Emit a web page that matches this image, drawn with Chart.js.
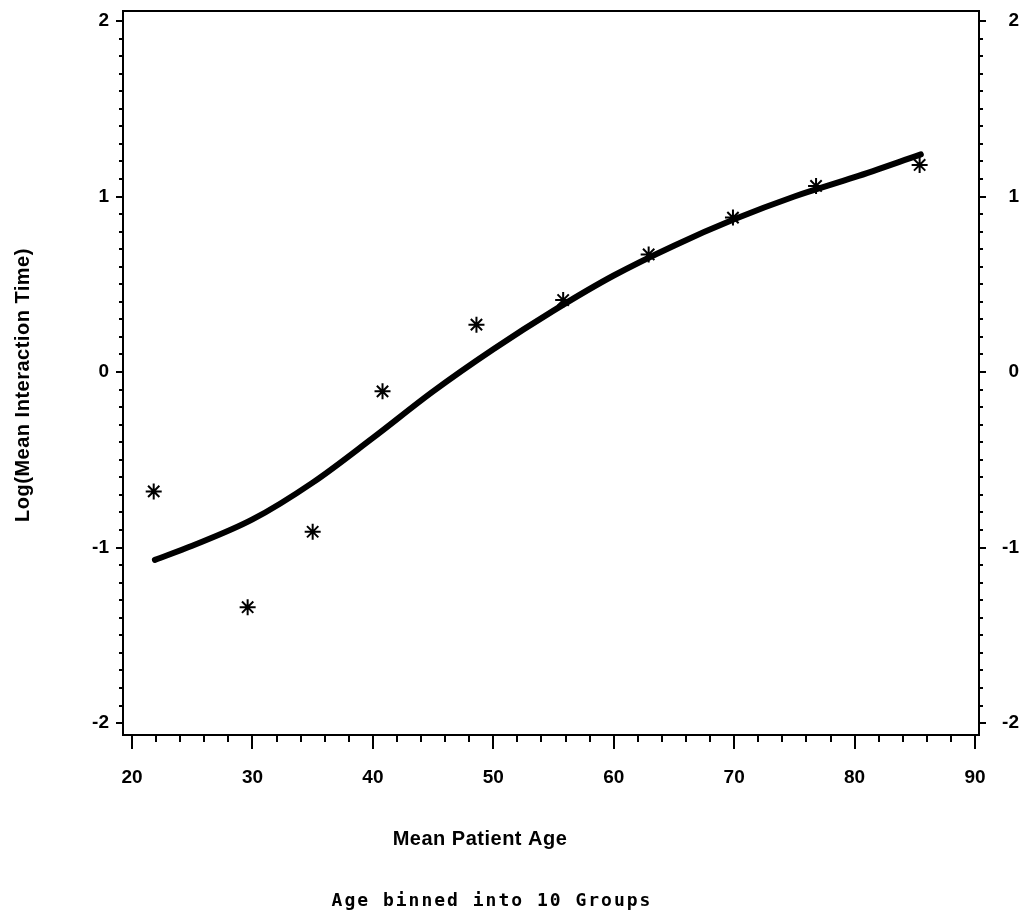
<!DOCTYPE html>
<html>
<head>
<meta charset="utf-8">
<script src="https://cdn.jsdelivr.net/npm/chart.js@4"></script>
<style>
  html, body { margin: 0; padding: 0; background: #fff; }
  #wrap { width: 1019px; height: 914px; }
</style>
</head>
<body>
<div id="wrap"><canvas id="ageChart" width="1019" height="914"></canvas></div>
<script>
// observed group means
const ageMeans = [21.8, 29.6, 35.0, 40.8, 48.6, 55.8, 62.9, 69.9, 76.8, 85.4];
const logTimes = [-0.68, -1.34, -0.91, -0.11, 0.27, 0.41, 0.67, 0.88, 1.06, 1.18];

// fitted curve
const fitAge = [21.9, 25, 30, 35, 40, 45, 50, 55, 60, 65, 70, 75, 80, 85.5];
const fitLog = [-1.07, -0.99, -0.84, -0.63, -0.375, -0.11, 0.13, 0.35, 0.55, 0.72, 0.87, 1.0, 1.11, 1.24];

const xMajor = [20, 30, 40, 50, 60, 70, 80, 90];
const yMajor = [-2, -1, 0, 1, 2];

const tickFont = { family: 'Liberation Sans, Arial, sans-serif', size: 19, weight: 'bold' };

const noPad = s => { s.paddingTop = 0; s.paddingBottom = 0; s.paddingLeft = 0; s.paddingRight = 0; };

const frame = {
  id: 'frame',
  afterDraw(chart) {
    const { ctx, chartArea: a } = chart;
    const xs = chart.scales.x, yl = chart.scales.y;
    ctx.save();
    ctx.strokeStyle = '#000';
    ctx.lineWidth = 2;
    ctx.strokeRect(a.left, a.top, a.right - a.left, a.bottom - a.top);

    ctx.beginPath();
    // x ticks: major every 10, minor every 2
    for (let v = 20; v <= 90; v += 2) {
      const px = Math.round(xs.getPixelForValue(v));
      const len = v % 10 === 0 ? 14 : 7;
      ctx.moveTo(px, a.bottom);
      ctx.lineTo(px, a.bottom + len);
    }
    // y ticks both sides: major every 1, minor every 0.1
    for (let i = -20; i <= 20; i++) {
      const py = Math.round(yl.getPixelForValue(i / 10));
      const len = i % 10 === 0 ? 7 : 4;
      ctx.moveTo(a.left, py);
      ctx.lineTo(a.left - len, py);
      ctx.moveTo(a.right, py);
      ctx.lineTo(a.right + len, py);
    }
    ctx.stroke();

    ctx.fillStyle = '#000';
    ctx.textAlign = 'center';
    ctx.textBaseline = 'middle';
    ctx.font = 'bold 20px "Liberation Sans", Arial, sans-serif';
    ctx.letterSpacing = '0.5px';
    ctx.fillText('Mean Patient Age', 480, 839);

    ctx.save();
    ctx.translate(23, 385);
    ctx.rotate(-Math.PI / 2);
    ctx.fillText('Log(Mean Interaction Time)', 0, 0);
    ctx.restore();

    ctx.letterSpacing = '2px';
    ctx.font = 'bold 18px "DejaVu Sans Mono", monospace';
    ctx.fillText('Age binned into 10 Groups', 492, 901);
    ctx.restore();
  }
};

new Chart(document.getElementById('ageChart'), {
  type: 'scatter',
  data: {
    datasets: [
      {
        label: 'Fitted',
        data: fitAge.map((a, i) => ({ x: a, y: fitLog[i] })),
        showLine: true,
        borderColor: '#000',
        borderWidth: 6,
        pointRadius: 0,
        cubicInterpolationMode: 'monotone',
        borderCapStyle: 'round'
      },
      {
        label: 'Observed',
        data: ageMeans.map((a, i) => ({ x: a, y: logTimes[i] })),
        pointStyle: 'star',
        pointRadius: 8,
        borderWidth: 2,
        borderColor: '#000',
        backgroundColor: '#000'
      }
    ]
  },
  options: {
    responsive: false,
    animation: false,
    layout: { padding: { top: 11, bottom: 0, left: 0, right: 0 } },
    plugins: { legend: { display: false }, tooltip: { enabled: false } },
    scales: {
      x: {
        type: 'linear',
        min: 19.25,
        max: 90.33,
        grid: { display: false, drawTicks: false },
        border: { display: false },
        afterBuildTicks: s => { s.ticks = xMajor.map(v => ({ value: v })); },
        afterFit: s => { s.height = 179; noPad(s); },
        ticks: { font: tickFont, color: '#000', padding: 31, maxRotation: 0, autoSkip: false }
      },
      y: {
        position: 'left',
        min: -2.068,
        max: 2.057,
        grid: { display: false, drawTicks: false },
        border: { display: false },
        afterBuildTicks: s => { s.ticks = yMajor.map(v => ({ value: v })); },
        afterFit: s => { s.width = 123; noPad(s); },
        ticks: { font: tickFont, color: '#000', padding: 14 }
      },
      y2: {
        position: 'right',
        min: -2.068,
        max: 2.057,
        grid: { display: false, drawTicks: false },
        border: { display: false },
        afterBuildTicks: s => { s.ticks = yMajor.map(v => ({ value: v })); },
        afterFit: s => { s.width = 40; noPad(s); },
        ticks: { font: tickFont, color: '#000', padding: 10, crossAlign: 'far' }
      }
    }
  },
  plugins: [frame]
});
</script>
</body>
</html>
